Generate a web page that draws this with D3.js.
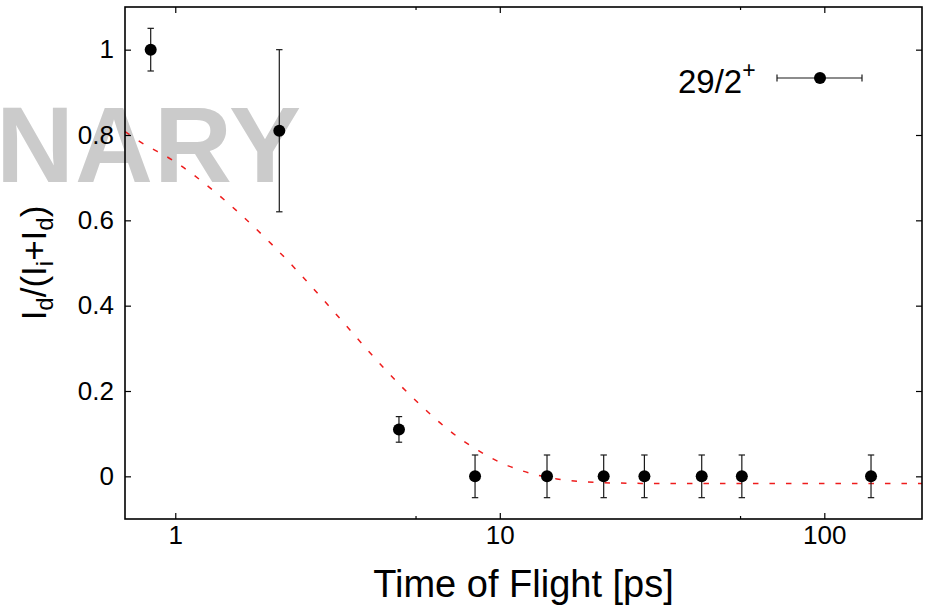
<!DOCTYPE html>
<html>
<head>
<meta charset="utf-8">
<script src="https://cdn.jsdelivr.net/npm/d3@7"></script>
<style>
  html, body { margin: 0; padding: 0; background: #fff; }
  svg { display: block; }
  text { font-family: "Liberation Sans", Arial, Helvetica, sans-serif; fill: #000; }
</style>
</head>
<body>
<svg id="chart" width="926" height="610"></svg>
<script>
// Measured points: time of flight (ps), intensity ratio and its uncertainty
const tof    = [0.840, 2.092, 4.89, 8.39, 13.98, 20.9, 27.9, 41.9, 55.7, 139.3];
const ratio  = [1.00, 0.81, 0.11, 0, 0, 0, 0, 0, 0, 0];
const ratioErr = [0.05, 0.19, 0.03, 0.05, 0.05, 0.05, 0.05, 0.05, 0.05, 0.05];

// Fitted decay curve, sampled along its length
const fitT = [0.7, 0.78, 1, 1.3, 1.6, 2, 2.4, 3, 3.5, 4, 5, 5.75, 7, 8.6, 10, 11.3, 13, 15, 20, 30, 50, 200];
const fitY = [0.808, 0.784, 0.737, 0.672, 0.612, 0.541, 0.478, 0.396, 0.338, 0.288, 0.209, 0.164,
              0.107, 0.060, 0.033, 0.017, 0.003, -0.006, -0.0145, -0.0167, -0.017, -0.017];

// Axis ticks
const xMajorTicks = [1, 10, 100];
const xMinorTicks = [5.5, 55];
const yTicks = [0, 0.2, 0.4, 0.6, 0.8, 1];
const legendLabel = "29/2";

const svg = d3.select("#chart");
const plotL = 125, plotR = 922, plotT = 7, plotB = 519;

const x = d3.scaleLog().domain([0.7, 200]).range([plotL, plotR]);
const y = d3.scaleLinear().domain([-0.1, 1.1]).range([plotB, plotT]);

// Watermark behind everything
svg.append("text")
  .attr("x", -4).attr("y", 182)
  .attr("font-size", 108)
  .attr("font-weight", "bold")
  .attr("letter-spacing", 1)
  .style("fill", "#cbcbcb")
  .text("NARY");

// Fit curve (dashed red)
const fitData = fitT.map((t, i) => [t, fitY[i]]);
svg.append("path")
  .datum(fitData)
  .attr("fill", "none")
  .attr("stroke", "#ee1c1c")
  .attr("stroke-width", 1.5)
  .attr("stroke-dasharray", "5.5,11")
  .attr("d", d3.line().x(d => x(d[0])).y(d => y(d[1])).curve(d3.curveMonotoneX));

// Error bars and points
const pts = tof.map((t, i) => ({ t, v: ratio[i], e: ratioErr[i] }));
const eb = svg.append("g").attr("stroke", "#1a1a1a").attr("stroke-width", 1.2);
pts.forEach(p => {
  const cx = x(p.t), y1 = y(p.v + p.e), y2 = y(p.v - p.e);
  eb.append("line").attr("x1", cx).attr("x2", cx).attr("y1", y1).attr("y2", y2);
  eb.append("line").attr("x1", cx - 3.2).attr("x2", cx + 3.2).attr("y1", y1).attr("y2", y1);
  eb.append("line").attr("x1", cx - 3.2).attr("x2", cx + 3.2).attr("y1", y2).attr("y2", y2);
});
svg.append("g").selectAll("circle").data(pts).join("circle")
  .attr("cx", d => x(d.t)).attr("cy", d => y(d.v)).attr("r", 6).attr("fill", "#000");

// Axes: ticks point inward, mirrored on opposite sides
const axisStyle = g => {
  g.select(".domain").remove();
  g.selectAll(".tick line").attr("stroke", "#000").attr("stroke-width", 1.2);
  g.selectAll(".tick text").attr("font-size", 26).attr("font-family", "Liberation Sans, Arial, sans-serif");
};

svg.append("g").attr("transform", `translate(0,${plotB})`)
  .call(d3.axisBottom(x).tickValues(xMajorTicks).tickFormat(d3.format("d")).tickSizeInner(-6).tickSizeOuter(0).tickPadding(7))
  .call(axisStyle);
svg.append("g").attr("transform", `translate(0,${plotB})`)
  .call(d3.axisBottom(x).tickValues(xMinorTicks).tickFormat("").tickSizeInner(-3).tickSizeOuter(0))
  .call(axisStyle);
svg.append("g").attr("transform", `translate(0,${plotT})`)
  .call(d3.axisTop(x).tickValues(xMajorTicks).tickFormat("").tickSizeInner(-6).tickSizeOuter(0))
  .call(axisStyle);
svg.append("g").attr("transform", `translate(0,${plotT})`)
  .call(d3.axisTop(x).tickValues(xMinorTicks).tickFormat("").tickSizeInner(-3).tickSizeOuter(0))
  .call(axisStyle);

svg.append("g").attr("transform", `translate(${plotL},0)`)
  .call(d3.axisLeft(y).tickValues(yTicks).tickFormat(d => String(+d.toFixed(1))).tickSizeInner(-6).tickSizeOuter(0).tickPadding(11))
  .call(axisStyle);
svg.append("g").attr("transform", `translate(${plotR},0)`)
  .call(d3.axisRight(y).tickValues(yTicks).tickFormat("").tickSizeInner(-6).tickSizeOuter(0))
  .call(axisStyle);

// Plot frame
svg.append("rect")
  .attr("x", plotL).attr("y", plotT)
  .attr("width", plotR - plotL).attr("height", plotB - plotT)
  .attr("fill", "none").attr("stroke", "#000").attr("stroke-width", 1.6);

// Axis titles
svg.append("text")
  .attr("x", (plotL + plotR) / 2).attr("y", 597)
  .attr("text-anchor", "middle")
  .attr("font-size", 38)
  .text("Time of Flight [ps]");

const yl = svg.append("text")
  .attr("transform", "translate(46,263) rotate(-90)")
  .attr("text-anchor", "middle")
  .attr("font-size", 35);
yl.append("tspan").text("I");
yl.append("tspan").attr("font-size", 24).attr("dy", 7).text("d");
yl.append("tspan").attr("dy", -7).text("/(I");
yl.append("tspan").attr("font-size", 24).attr("dy", 7).text("i");
yl.append("tspan").attr("dy", -7).text("+I");
yl.append("tspan").attr("font-size", 24).attr("dy", 7).text("d");
yl.append("tspan").attr("dy", -7).text(")");

// Legend
const lg = svg.append("g");
const legText = lg.append("text").attr("x", 678).attr("y", 93).attr("font-size", 33);
legText.append("tspan").text(legendLabel);
legText.append("tspan").attr("font-size", 23).attr("dy", -15).text("+");
const ly = 78, lx1 = 777, lx2 = 862, lcx = 820;
lg.append("line").attr("x1", lx1).attr("x2", lx2).attr("y1", ly).attr("y2", ly).attr("stroke", "#1a1a1a").attr("stroke-width", 1.2);
lg.append("line").attr("x1", lx1).attr("x2", lx1).attr("y1", ly - 3.5).attr("y2", ly + 3.5).attr("stroke", "#1a1a1a").attr("stroke-width", 1.2);
lg.append("line").attr("x1", lx2).attr("x2", lx2).attr("y1", ly - 3.5).attr("y2", ly + 3.5).attr("stroke", "#1a1a1a").attr("stroke-width", 1.2);
lg.append("circle").attr("cx", lcx).attr("cy", ly).attr("r", 6).attr("fill", "#000");
</script>
</body>
</html>
